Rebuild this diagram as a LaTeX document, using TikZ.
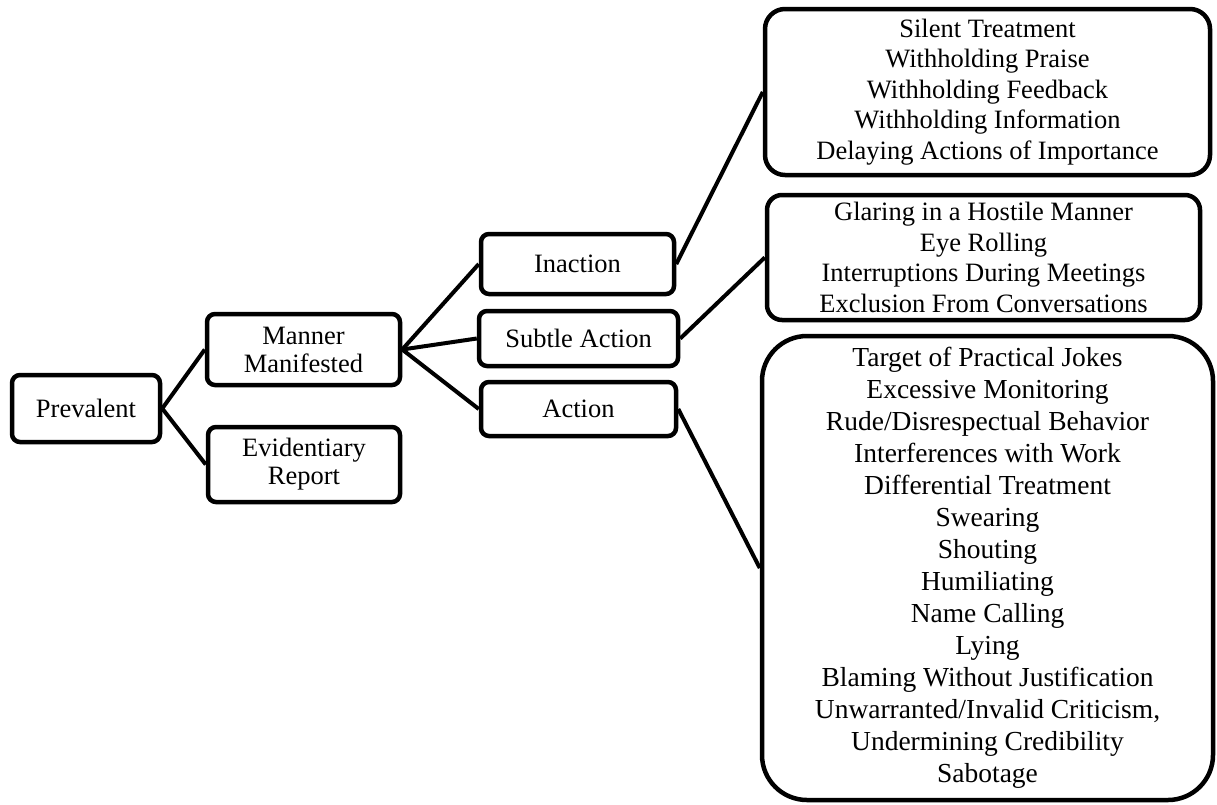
\documentclass[tikz,border=0pt]{standalone}
\usepackage{fontspec}
\setmainfont{Liberation Serif}
\begin{document}
\begin{tikzpicture}[x=1pt,y=-1pt,
  box/.style={draw=black, line width=4.5pt, rounded corners=8pt, inner sep=0pt,
    align=center, font=\fontsize{26.5}{28}\selectfont},
  listbox/.style={draw=black, line width=4.5pt, inner sep=0pt, align=center,
    font=\fontsize{26.5}{30.4}\selectfont},
  biglist/.style={draw=black, line width=4.5pt, inner sep=0pt, align=center,
    font=\fontsize{27.5}{32}\selectfont},
  link/.style={draw=black, line width=4pt}]
\fill[white] (0,0) rectangle (1217,804);
\useasboundingbox (0,0) rectangle (1217,804);

\node[box, minimum width=148pt, minimum height=67pt] (prev) at (86,408.5) {Prevalent};
\node[box, minimum width=193pt, minimum height=71pt] (mann) at (303.5,349.5) {Manner\\Manifested};
\node[box, minimum width=192pt, minimum height=75pt] (evid) at (304,464.5) {Evidentiary\\Report};
\node[box, minimum width=193pt, minimum height=60pt] (inac) at (577.5,264) {Inaction};
\node[box, minimum width=199pt, minimum height=55pt] (subt) at (578.5,338.5) {Subtle Action};
\node[box, minimum width=195pt, minimum height=54pt] (acti) at (578.5,409) {Action};

\node[listbox, rounded corners=20pt, minimum width=445pt, minimum height=166pt] (ltop) at (987.5,92)
  {Silent Treatment\\Withholding Praise\\Withholding Feedback\\Withholding Information\\Delaying Actions of Importance};
\node[listbox, rounded corners=15pt, minimum width=433pt, minimum height=125pt] (lmid) at (983.5,257.5)
  {Glaring in a Hostile Manner\\Eye Rolling\\Interruptions During Meetings\\Exclusion From Conversations};
\node[biglist, rounded corners=45pt, minimum width=451pt, minimum height=464pt] (lbot) at (987.5,568)
  {Target of Practical Jokes\\Excessive Monitoring\\Rude/Disrespectual Behavior\\Interferences with Work\\Differential Treatment\\Swearing\\Shouting\\Humiliating\\Name Calling\\Lying\\Blaming Without Justification\\Unwarranted/Invalid Criticism,\\Undermining Credibility\\Sabotage};

\draw[link] (prev.east) -- (mann.west);
\draw[link] (prev.east) -- (evid.west);
\draw[link] (mann.east) -- (inac.west);
\draw[link] (mann.east) -- (subt.west);
\draw[link] (mann.east) -- (acti.west);
\draw[link] (inac.east) -- (ltop.west);
\draw[link] (subt.east) -- (lmid.west);
\draw[link] (acti.east) -- (lbot.west);
\end{tikzpicture}
\end{document}
